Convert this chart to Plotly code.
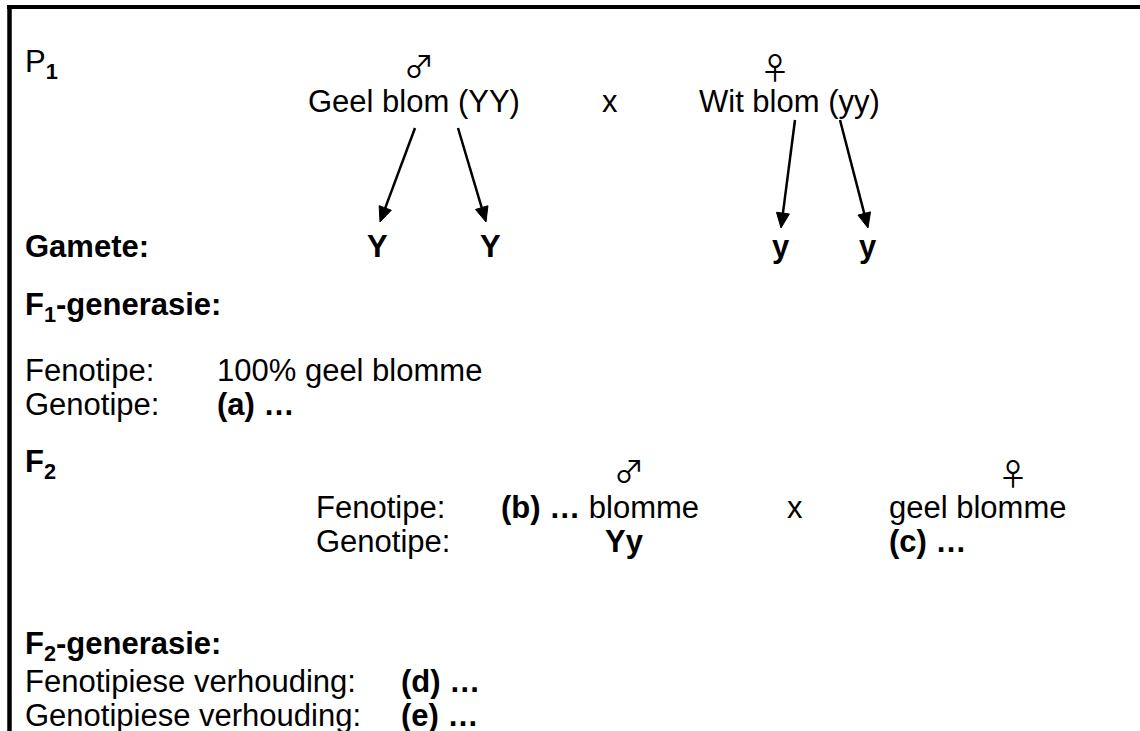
import math
import plotly.graph_objects as go

# ---- texts (content) ----
p1_label = "P<sub><b>1</b></sub>"
parents_p1 = ["Geel blom (YY)", "Wit blom (yy)"]
cross_sign = "x"
sex_symbols = ["\u2642", "\u2640"]
gamete_label = "<b>Gamete:</b>"
gametes_male = ["Y", "Y"]
gametes_female = ["y", "y"]
f1_title = "<b>F<sub>1</sub>-generasie:</b>"
f1_labels = ["Fenotipe:", "Genotipe:"]
f1_values = ["100% geel blomme", "<b>(a) \u2026</b>"]
f2_label = "<b>F<sub>2</sub></b>"
f2_labels = ["Fenotipe:", "Genotipe:"]
f2_male = ["<b>(b) \u2026</b> blomme", "<b>Yy</b>"]
f2_female = ["geel blomme", "<b>(c) \u2026</b>"]
f2gen_title = "<b>F<sub>2</sub>-generasie:</b>"
f2gen_labels = ["Fenotipiese verhouding:", "Genotipiese verhouding:"]
f2gen_values = ["<b>(d) \u2026</b>", "<b>(e) \u2026</b>"]

# ---- layout positions (pixels, y downwards; text y = baseline) ----
W, H = 1140, 731
FS = 31
FONT = "Liberation Sans, Arial, sans-serif"
SYMFONT = "Noto Sans CJK JP, DejaVu Sans, sans-serif"
SYM_FS = 30
LEFT = 24
arrow_tails = [(415, 128), (458, 128), (795, 120), (840, 120)]
arrow_tips = [(380, 222), (486, 222), (781, 228), (868, 228)]
HEAD_LEN, HEAD_HALF = 15, 6.5


def mid(baseline, fs=FS):
    return baseline - 0.3465 * fs


anns = []
shapes = []


def text(x, baseline, s, anchor="left", fs=FS):
    anns.append(dict(x=x, y=mid(baseline, fs), text=s, xref="x", yref="y",
                     xanchor=anchor, yanchor="middle", showarrow=False,
                     borderpad=0, font=dict(family=FONT, size=fs, color="black")))


def sym(x, y, s):
    anns.append(dict(x=x, y=y, text=s, xref="x", yref="y", xanchor="center",
                     yanchor="middle", showarrow=False, borderpad=0,
                     font=dict(family=SYMFONT, size=SYM_FS, color="black")))


def arrow(tail, tip):
    (x0, y0), (x1, y1) = tail, tip
    d = math.hypot(x1 - x0, y1 - y0)
    ux, uy = (x1 - x0) / d, (y1 - y0) / d
    bx, by = x1 - ux * HEAD_LEN, y1 - uy * HEAD_LEN
    px, py = -uy, ux
    shapes.append(dict(type="line", xref="x", yref="y", x0=x0, y0=y0,
                       x1=bx + ux * 2, y1=by + uy * 2,
                       line=dict(color="black", width=2.5)))
    path = "M %.2f %.2f L %.2f %.2f L %.2f %.2f Z" % (
        x1, y1, bx + px * HEAD_HALF, by + py * HEAD_HALF,
        bx - px * HEAD_HALF, by - py * HEAD_HALF)
    shapes.append(dict(type="path", xref="x", yref="y", path=path,
                       fillcolor="black", line=dict(color="black", width=1)))


# P1 row
text(LEFT, 75, p1_label)
sym(419, 64, sex_symbols[0])
sym(775, 66, sex_symbols[1])
text(307, 112, parents_p1[0])
text(610, 112, cross_sign, anchor="center")
text(698, 112, parents_p1[1])
# arrows to gametes
for t, p in zip(arrow_tails, arrow_tips):
    arrow(t, p)
# Gametes
text(LEFT, 257, gamete_label)
for gx, g in zip([377, 490], gametes_male):
    text(gx, 257, "<b>%s</b>" % g, anchor="center")
for gx, g in zip([781, 868], gametes_female):
    text(gx, 257, "<b>%s</b>" % g, anchor="center")
# F1
text(LEFT, 318, f1_title)
for bl, lab, val in zip([381, 415], f1_labels, f1_values):
    text(LEFT, bl, lab)
    text(216, bl, val)
# F2
text(LEFT, 475, f2_label)
sym(629, 469, sex_symbols[0])
sym(1013, 472, sex_symbols[1])
text(315, 518, f2_labels[0])
text(500, 518, f2_male[0])
text(795, 518, cross_sign, anchor="center")
text(888, 518, f2_female[0])
text(315, 552, f2_labels[1])
text(624, 552, f2_male[1], anchor="center")
text(888, 552, f2_female[1])
# F2 generation
text(LEFT, 657, f2gen_title)
for bl, lab, val in zip([692, 726], f2gen_labels, f2gen_values):
    text(LEFT, bl, lab)
    text(400, bl, val)

# frame (top and left edges)
shapes.append(dict(type="line", xref="x", yref="y", x0=7, y0=7, x1=W + 5, y1=7,
                   line=dict(color="black", width=4)))
shapes.append(dict(type="line", xref="x", yref="y", x0=9.5, y0=5, x1=9.5, y1=H + 5,
                   line=dict(color="black", width=4.5)))

fig = go.Figure()
fig.add_trace(go.Scatter(x=[0], y=[0], mode="markers", marker=dict(opacity=0),
                         showlegend=False, hoverinfo="skip"))
fig.update_layout(
    width=W, height=H, margin=dict(l=0, r=0, t=0, b=0),
    paper_bgcolor="white", plot_bgcolor="white",
    xaxis=dict(range=[0, W], visible=False, fixedrange=True),
    yaxis=dict(range=[H, 0], visible=False, fixedrange=True),
    annotations=anns,
    shapes=shapes,
    showlegend=False,
)
fig.write_html("out.html", config={"displayModeBar": False, "staticPlot": True},
               post_script="document.body.style.margin='0';document.body.style.overflow='hidden';")
